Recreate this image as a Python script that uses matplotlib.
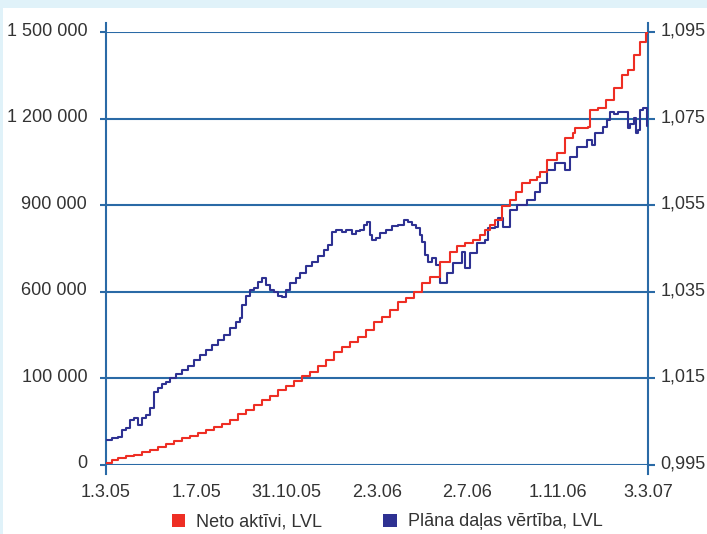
import numpy as np
import pandas as pd
import matplotlib
matplotlib.use("Agg")
import matplotlib.pyplot as plt
import matplotlib.transforms as mtransforms
from matplotlib.patches import Rectangle, Patch

plt.rcParams['font.family'] = ['Liberation Sans', 'DejaVu Sans']

start = pd.Timestamp('2005-03-01')

# Neto aktivi, LVL (left axis), days since 1.3.05 and thousands of LVL
net_days = [0, 8, 16, 27, 38, 49, 59, 70, 81, 92, 103, 113, 124, 135, 146, 157, 167, 178,
            189, 200, 211, 221, 232, 243, 254, 265, 276, 286, 297, 308, 319, 330, 340, 351,
            362, 373, 384, 394, 405, 416, 427, 438, 451, 465, 474, 485, 496, 505, 512, 519,
            525, 535, 546, 554, 562, 573, 582, 586, 596, 609, 620, 631, 633, 651, 654, 664,
            675, 686, 697, 705, 713, 721, 729, 732]
net_vals = [7, 17, 24, 31, 35, 45, 52, 62, 73, 83, 94, 100, 111, 121, 132, 142, 156, 177,
            191, 208, 225, 239, 260, 274, 291, 308, 322, 343, 364, 391, 409, 426, 443, 468,
            495, 513, 537, 565, 578, 599, 630, 651, 703, 738, 759, 769, 779, 797, 814, 831,
            849, 897, 918, 946, 977, 987, 998, 1015, 1057, 1081, 1133, 1150, 1167, 1171, 1230,
            1237, 1264, 1306, 1351, 1368, 1420, 1465, 1496, 1500]
net_vals = [v * 1000 for v in net_vals]

# Plana dalas vertiba, LVL (right axis)
unit_days = [0, 8, 16, 22, 27, 32, 38, 43, 49, 54, 59, 65, 70, 76, 81, 86, 95, 103, 111,
             119, 127, 135, 143, 151, 159, 167, 176, 181, 184, 189, 194, 200, 205, 211, 216,
             221, 227, 232, 238, 243, 249, 257, 262, 270, 278, 286, 294, 300, 305, 311, 319,
             324, 332, 338, 343, 348, 353, 357, 359, 365, 370, 378, 386, 394, 402, 408, 413,
             419, 424, 427, 431, 435, 440, 446,
             451, 461, 469, 481, 485, 492, 501, 512, 516, 525, 529, 536, 546, 555, 569, 579,
             586, 596, 606, 620, 627, 636, 650, 656, 660, 671, 677,
             681, 686, 692, 697, 702, 705, 708, 713, 716, 718, 721, 725, 728, 730, 732]
unit_vals = [1.0008, 1.0012, 1.0015, 1.0031, 1.0035, 1.0054, 1.0059, 1.0042, 1.0059, 1.0066,
             1.0082, 1.0119, 1.0128, 1.0137, 1.0142, 1.0151, 1.0160, 1.0169, 1.0179, 1.0193,
             1.0204, 1.0216, 1.0227, 1.0239, 1.0250, 1.0266, 1.0280, 1.0290, 1.0320, 1.0340,
             1.0354, 1.0359, 1.0373, 1.0382, 1.0366, 1.0354, 1.0350, 1.0340, 1.0338, 1.0354,
             1.0370, 1.0382, 1.0394, 1.0410, 1.0419, 1.0433, 1.0447, 1.0458, 1.0488, 1.0493,
             1.0488, 1.0493, 1.0484, 1.0490, 1.0493, 1.0504, 1.0511, 1.0481, 1.0470, 1.0474,
             1.0486, 1.0493, 1.0502, 1.0504, 1.0516, 1.0511, 1.0504, 1.0497, 1.0481, 1.0465,
             1.0435, 1.0419, 1.0428, 1.0412,
             1.0370, 1.0393, 1.0417, 1.0442, 1.0405, 1.0440, 1.0463, 1.0470, 1.0497, 1.0500,
             1.0520, 1.0500, 1.0539, 1.0550, 1.0562, 1.0581, 1.0601, 1.0631, 1.0647, 1.0631,
             1.0661, 1.0684, 1.0700, 1.0689, 1.0717, 1.0731, 1.0747,
             1.0765, 1.0761, 1.0765, 1.0765, 1.0765, 1.0728, 1.0738, 1.0752, 1.0717, 1.0724,
             1.0770, 1.0775, 1.0775, 1.0733, 1.0742]

x_ticks = ['2005-03-01', '2005-07-01', '2005-10-31', '2006-03-02', '2006-07-02', '2006-11-01', '2007-03-03']
x_labels = ['1.3.05', '1.7.05', '31.10.05', '2.3.06', '2.7.06', '1.11.06', '3.3.07']
left_ticks = [0, 300000, 600000, 900000, 1200000, 1500000]
left_labels = ['0', '100 000', '600 000', '900 000', '1 200 000', '1 500 000']
right_ticks = [0.995, 1.015, 1.035, 1.055, 1.075, 1.095]
right_labels = ['0,995', '1,015', '1,035', '1,055', '1,075', '1,095']

red = '#ee2e24'
blue = '#2e3192'
grid_c = '#2a6aa6'
txt_c = '#333333'

fig = plt.figure(figsize=(7.07, 5.34), dpi=100)
fig.patch.set_facecolor('#e0f2f9')
fig.patches.append(Rectangle((3 / 707, 0), 1, (534 - 8) / 534, transform=fig.transFigure,
                             facecolor='white', edgecolor='none', zorder=-5))

ax = fig.add_axes([106 / 707, 1 - 465 / 534, 542 / 707, 433 / 534])
ax2 = ax.twinx()
ax.set_zorder(ax2.get_zorder() + 1)
ax.patch.set_visible(False)
ax2.patch.set_visible(False)

net_dates = [start + pd.Timedelta(days=d) for d in net_days]
unit_dates = [start + pd.Timedelta(days=d) for d in unit_days]

ax2.plot(unit_dates, unit_vals, color=blue, lw=1.5, drawstyle='steps-post')
ax.plot(net_dates, net_vals, color=red, lw=1.5, drawstyle='steps-post')

xt = pd.to_datetime(x_ticks)
ax.set_xlim(start, start + pd.Timedelta(days=732))
ax.set_xticks(xt)
ax.set_xticklabels(x_labels)
ax.set_ylim(0, 1500000)
ax.set_yticks(left_ticks)
ax.set_yticklabels(left_labels)
ax2.set_ylim(0.995, 1.095)
ax2.set_yticks(right_ticks)
ax2.set_yticklabels(right_labels)

for a in (ax, ax2):
    for s in a.spines.values():
        s.set_visible(False)

ax2.yaxis.grid(True, color=grid_c, lw=1.5)
ax2.set_axisbelow(True)
ax.tick_params(axis='y', direction='out', length=4.5, width=1.5, color=grid_c,
               labelsize=13, labelcolor=txt_c, pad=9)
ax2.tick_params(axis='y', direction='out', length=5, width=1.5, color=grid_c,
                labelsize=13, labelcolor=txt_c, pad=4)
ax.tick_params(axis='x', length=0, labelsize=13, labelcolor=txt_c, pad=14)

# y labels sit slightly above their gridlines
shift = mtransforms.ScaledTranslation(0, 3 / 100, fig.dpi_scale_trans)
for lab in ax.get_yticklabels() + ax2.get_yticklabels():
    lab.set_transform(lab.get_transform() + shift)

# vertical axis lines, a bit longer than the plot area
ext = 9 / 433
for xv in (0, 1):
    ax2.plot([xv, xv], [-ext, 1 + ext], transform=ax2.transAxes, color=grid_c, lw=1.5,
             clip_on=False, zorder=1)

handles = [Patch(facecolor=red, edgecolor='none'), Patch(facecolor=blue, edgecolor='none')]
fig.legend(handles, ['Neto aktīvi, LVL', 'Plāna daļas vērtība, LVL'], loc='center',
           bbox_to_anchor=(387 / 707, 1 - 522 / 534), ncol=2, frameon=False,
           handlelength=0.75, handleheight=0.75, handletextpad=0.6, columnspacing=3.4,
           fontsize=13, labelcolor=txt_c)

fig.savefig('out.png', dpi=100, facecolor=fig.get_facecolor())
